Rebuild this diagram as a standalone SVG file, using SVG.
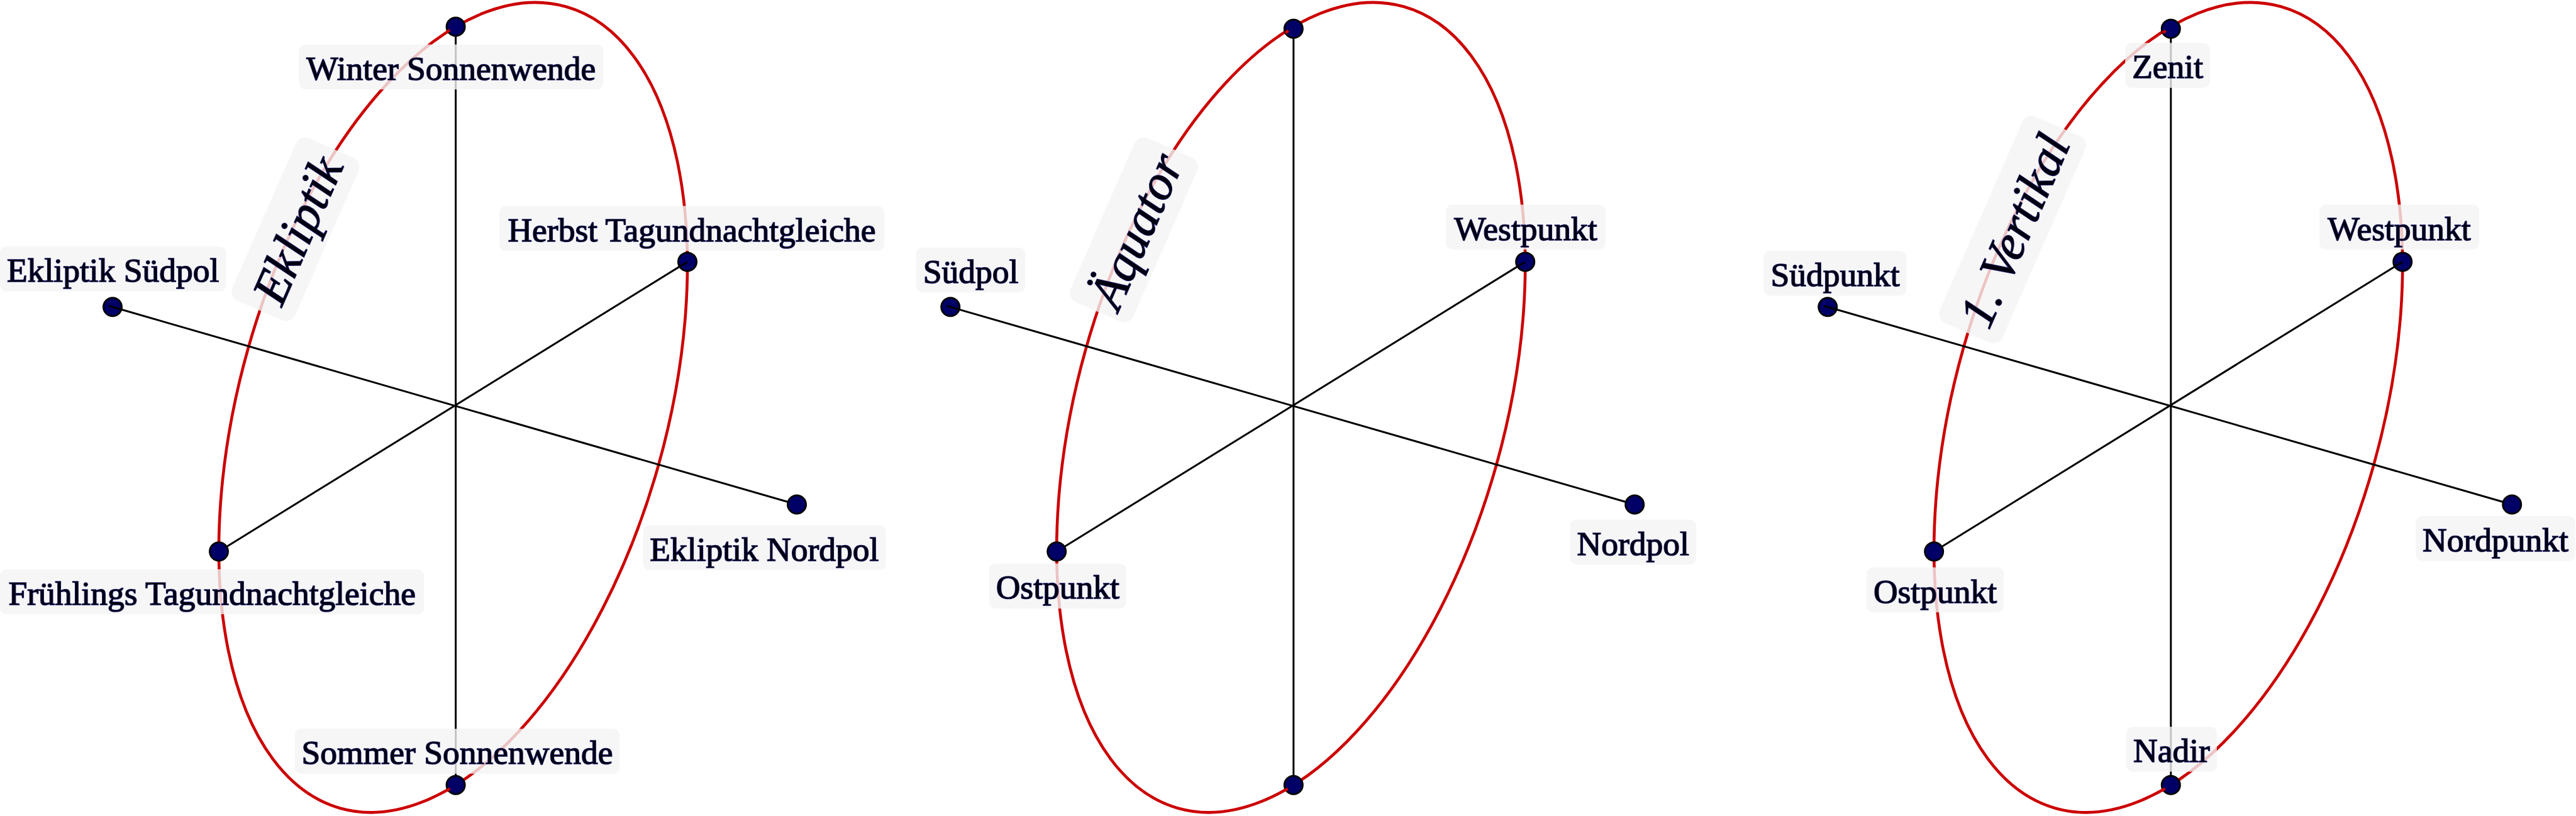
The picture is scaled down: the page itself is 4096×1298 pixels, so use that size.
<svg xmlns="http://www.w3.org/2000/svg" width="4096" height="1298" viewBox="0 0 4096 1298">
<style>
.orbit{fill:none;stroke:#cc0000;stroke-width:4.6}
.axis{fill:none;stroke:#000;stroke-width:3}
.dot{fill:#000066;stroke:#000;stroke-width:2.8}
.box{fill:#f4f4f4;fill-opacity:0.8}
.t{font-family:"Liberation Serif","Times New Roman",serif;font-size:53.5px;fill:#000010;stroke:#23237a;stroke-width:1.6;paint-order:stroke;text-anchor:middle}
.big{font-size:79px;font-style:italic}
</style>
<rect width="4096" height="1298" fill="#ffffff"/>

<!-- ================= Panel 1: Ekliptik ================= -->
<g id="panel-ekliptik">
  <g id="p1-connectors">
    <ellipse class="orbit" cx="720.5" cy="648.1" rx="339.2" ry="662.3" transform="rotate(15.7 720.5 648.1)"/>
    <line class="axis" x1="724.6" y1="42.5" x2="724.6" y2="1248.7"/>
    <line class="axis" x1="1093" y1="416.4" x2="348" y2="877.3"/>
    <line class="axis" x1="179" y1="488.3" x2="1267" y2="802.5"/>
  </g>
  <g id="p1-winter"><circle class="dot" cx="724.6" cy="42.5" r="14.6"/></g>
  <g id="p1-sommer"><circle class="dot" cx="724.6" cy="1248.7" r="14.6"/></g>
  <g id="p1-herbst"><circle class="dot" cx="1093" cy="416.4" r="14.6"/></g>
  <g id="p1-fruehling"><circle class="dot" cx="348" cy="877.3" r="14.6"/></g>
  <g id="p1-suedpol"><circle class="dot" cx="179" cy="488.3" r="14.6"/></g>
  <g id="p1-nordpol"><circle class="dot" cx="1267" cy="802.5" r="14.6"/></g>
  <g id="p1-connectors-front">
    <line class="orbit" x1="715.1" y1="48.1" x2="709.9" y2="51.1"/>
    <line class="orbit" x1="715.3" y1="1254.5" x2="710.2" y2="1257.7"/>
    <line class="axis" x1="173.2" y1="486.6" x2="194.4" y2="492.7"/>
    <line class="axis" x1="1093" y1="417" x2="1079.4" y2="424.8"/>
  </g>
  <g id="p1-labels">
    <g id="lbl-winter"><rect class="box" x="475.2" y="70.8" width="484.1" height="71.5" rx="10"/><text class="t" x="717.3" y="126.8">Winter Sonnenwende</text></g>
    <g id="lbl-ekl-suedpol"><rect class="box" x="0" y="392" width="359.4" height="71.5" rx="10"/><text class="t" x="179.7" y="448">Ekliptik Südpol</text></g>
    <g id="lbl-herbst"><rect class="box" x="794.1" y="327.6" width="611.8" height="71.5" rx="10"/><text class="t" x="1100" y="383.6">Herbst Tagundnachtgleiche</text></g>
    <g id="lbl-ekl-nordpol"><rect class="box" x="1022.4" y="835.5" width="386.1" height="71.5" rx="10"/><text class="t" x="1215.4" y="891.5">Ekliptik Nordpol</text></g>
    <g id="lbl-fruehling"><rect class="box" x="0" y="905.5" width="674.3" height="71.5" rx="10"/><text class="t" x="337.2" y="961.5">Frühlings Tagundnachtgleiche</text></g>
    <g id="lbl-sommer"><rect class="box" x="468.6" y="1159.2" width="516.8" height="71.5" rx="10"/><text class="t" x="727" y="1215.2">Sommer Sonnenwende</text></g>
    <g id="lbl-ekliptik" transform="translate(469.9 364.7) rotate(-66.3)"><rect class="box" x="-141.2" y="-54.5" width="282.4" height="109" rx="16"/><text class="t big" x="0" y="30">Ekliptik</text></g>
  </g>
</g>

<!-- ================= Panel 2: Äquator ================= -->
<g id="panel-aequator" transform="translate(1332.2 0)">
  <g id="p2-connectors">
    <ellipse class="orbit" cx="720.5" cy="648.1" rx="339.2" ry="662.3" transform="rotate(15.7 720.5 648.1)"/>
    <line class="axis" x1="724.6" y1="45.8" x2="724.6" y2="1248.7"/>
    <line class="axis" x1="1093" y1="416.4" x2="348" y2="877.3"/>
    <line class="axis" x1="179" y1="488.3" x2="1267" y2="802.5"/>
  </g>
  <g id="p2-top"><circle class="dot" cx="724.6" cy="45.8" r="14.6"/></g>
  <g id="p2-bottom"><circle class="dot" cx="724.6" cy="1248.7" r="14.6"/></g>
  <g id="p2-westpunkt"><circle class="dot" cx="1093" cy="416.4" r="14.6"/></g>
  <g id="p2-ostpunkt"><circle class="dot" cx="348" cy="877.3" r="14.6"/></g>
  <g id="p2-suedpol"><circle class="dot" cx="179" cy="488.3" r="14.6"/></g>
  <g id="p2-nordpol"><circle class="dot" cx="1267" cy="802.5" r="14.6"/></g>
  <g id="p2-connectors-front">
    <line class="orbit" x1="716.6" y1="48.9" x2="711.4" y2="51.9"/>
    <line class="orbit" x1="715.3" y1="1254.5" x2="710.2" y2="1257.7"/>
    <line class="axis" x1="173.2" y1="486.6" x2="194.4" y2="492.7"/>
    <line class="axis" x1="1093" y1="417" x2="1079.4" y2="424.8"/>
  </g>
  <g id="p2-labels">
    <g id="lbl-p2-suedpol"><rect class="box" x="124.5" y="393.8" width="173.6" height="71.5" rx="10"/><text class="t" x="211.3" y="449.8">Südpol</text></g>
    <g id="lbl-p2-westpunkt"><rect class="box" x="966.8" y="325.5" width="253.8" height="71.5" rx="10"/><text class="t" x="1093.7" y="381.5">Westpunkt</text></g>
    <g id="lbl-p2-ostpunkt"><rect class="box" x="240.5" y="896.4" width="218.2" height="71.5" rx="10"/><text class="t" x="349.6" y="952.4">Ostpunkt</text></g>
    <g id="lbl-p2-nordpol"><rect class="box" x="1164.5" y="826.5" width="200.3" height="71.5" rx="10"/><text class="t" x="1264.6" y="882.5">Nordpol</text></g>
    <g id="lbl-aequator" transform="translate(470.8 365.6) rotate(-66.3)"><rect class="box" x="-142.5" y="-54.5" width="285" height="109" rx="16"/><text class="t big" x="0" y="30">Äquator</text></g>
  </g>
</g>

<!-- ================= Panel 3: 1. Vertikal ================= -->
<g id="panel-vertikal" transform="translate(2727.2 0)">
  <g id="p3-connectors">
    <ellipse class="orbit" cx="720.5" cy="648.1" rx="339.2" ry="662.3" transform="rotate(15.7 720.5 648.1)"/>
    <line class="axis" x1="724.6" y1="45.8" x2="724.6" y2="1248.7"/>
    <line class="axis" x1="1093" y1="416.4" x2="348" y2="877.3"/>
    <line class="axis" x1="179" y1="488.3" x2="1267" y2="802.5"/>
  </g>
  <g id="p3-zenit"><circle class="dot" cx="724.6" cy="45.8" r="14.6"/></g>
  <g id="p3-nadir"><circle class="dot" cx="724.6" cy="1248.7" r="14.6"/></g>
  <g id="p3-westpunkt"><circle class="dot" cx="1093" cy="416.4" r="14.6"/></g>
  <g id="p3-ostpunkt"><circle class="dot" cx="348" cy="877.3" r="14.6"/></g>
  <g id="p3-suedpunkt"><circle class="dot" cx="179" cy="488.3" r="14.6"/></g>
  <g id="p3-nordpunkt"><circle class="dot" cx="1267" cy="802.5" r="14.6"/></g>
  <g id="p3-connectors-front">
    <line class="orbit" x1="716.6" y1="48.9" x2="711.4" y2="51.9"/>
    <line class="orbit" x1="715.3" y1="1254.5" x2="710.2" y2="1257.7"/>
    <line class="axis" x1="173.2" y1="486.6" x2="194.4" y2="492.7"/>
    <line class="axis" x1="1093" y1="417" x2="1079.4" y2="424.8"/>
  </g>
  <g id="p3-labels">
    <g id="lbl-zenit"><rect class="box" x="651.95" y="68.2" width="134.9" height="71.5" rx="10"/><text class="t" x="719.4" y="124.2">Zenit</text></g>
    <g id="lbl-suedpunkt"><rect class="box" x="77.25" y="399" width="227.1" height="71.5" rx="10"/><text class="t" x="190.8" y="455">Südpunkt</text></g>
    <g id="lbl-p3-westpunkt"><rect class="box" x="960.9" y="325.6" width="253.8" height="71.5" rx="10"/><text class="t" x="1087.8" y="381.6">Westpunkt</text></g>
    <g id="lbl-p3-ostpunkt"><rect class="box" x="240.7" y="902.6" width="218.2" height="71.5" rx="10"/><text class="t" x="349.8" y="958.6">Ostpunkt</text></g>
    <g id="lbl-nordpunkt"><rect class="box" x="1113.9" y="821" width="253.8" height="71.5" rx="10"/><text class="t" x="1240.8" y="877">Nordpunkt</text></g>
    <g id="lbl-nadir"><rect class="box" x="653.9" y="1156" width="143.8" height="71.5" rx="10"/><text class="t" x="725.8" y="1212">Nadir</text></g>
    <g id="lbl-vertikal" transform="translate(472.8 365.2) rotate(-66.3)"><rect class="box" x="-179.3" y="-54.5" width="358.6" height="109" rx="16"/><text class="t big" x="0" y="30">1. Vertikal</text></g>
  </g>
</g>
</svg>
